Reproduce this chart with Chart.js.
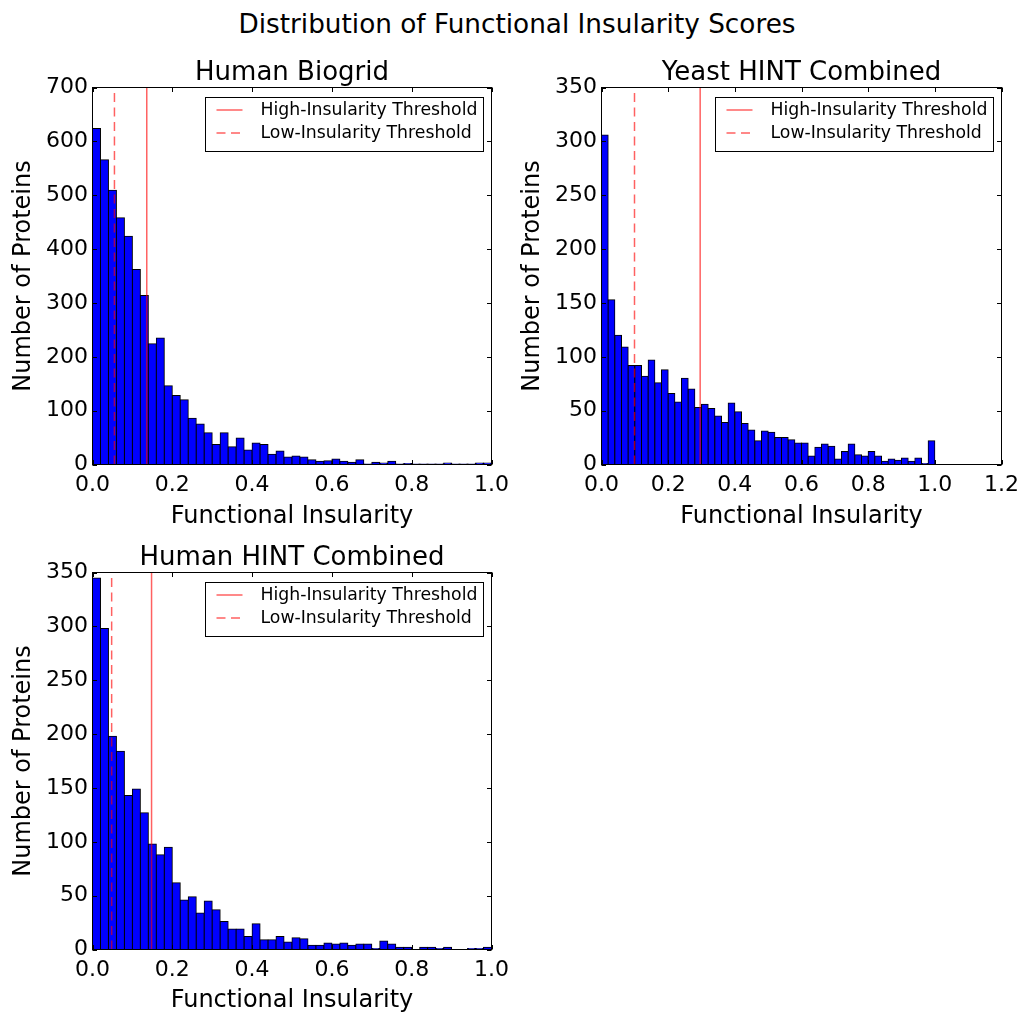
<!DOCTYPE html>
<html><head><meta charset="utf-8">
<script src="https://cdn.jsdelivr.net/npm/chart.js@4.4.1/dist/chart.umd.min.js"></script>
<style>
html,body{margin:0;padding:0;background:#fff;overflow:hidden}
#fig{position:relative;width:1022px;height:1013px;font-family:"DejaVu Sans";overflow:hidden}
#sup{position:absolute;left:6px;width:1022px;top:9px;text-align:center;font-size:26.3px;line-height:30px;color:#000;white-space:nowrap}
canvas{position:absolute}
</style></head><body>
<div id="fig">
<div id="sup">Distribution of Functional Insularity Scores</div>
<canvas id="c1" width="511" height="491" style="left:0;top:40px"></canvas>
<canvas id="c2" width="511" height="491" style="left:511px;top:40px"></canvas>
<canvas id="c3" width="511" height="492" style="left:0;top:523px"></canvas>
</div>
<script>
// ---- data ----
const binLefts = [0.00,0.02,0.04,0.06,0.08,0.10,0.12,0.14,0.16,0.18,
                  0.20,0.22,0.24,0.26,0.28,0.30,0.32,0.34,0.36,0.38,
                  0.40,0.42,0.44,0.46,0.48,0.50,0.52,0.54,0.56,0.58,
                  0.60,0.62,0.64,0.66,0.68,0.70,0.72,0.74,0.76,0.78,
                  0.80,0.82,0.84,0.86,0.88,0.90,0.92,0.94,0.96,0.98];
const binWidth = 0.02;

const biogridCounts = [624,566,509,458,424,362,314,224,235,146,
                       128,120,86,75,59,37,59,33,49,27,
                       40,37,19,25,14,16,14,9,6,7,
                       10,6,4,9,1,4,3,6,1,2,
                       1,1,1,1,3,1,1,1,3,3];
const yeastCounts = [306,153,120,109,92,92,82,97,76,88,
                     66,58,80,70,53,56,52,45,39,57,
                     49,38,32,22,31,30,25,25,23,20,
                     20,8,16,19,17,5,12,19,9,8,
                     12,8,3,5,4,6,3,6,1,22];
const hintCounts = [345,298,198,184,143,149,127,98,88,95,
                    62,46,49,34,45,37,26,19,19,12,
                    24,9,9,12,7,11,10,4,4,6,
                    5,6,4,5,5,1,8,5,2,2,
                    0,2,2,1,2,0,0,1,1,2];

const panelTitles = ['Human Biogrid','Yeast HINT Combined','Human HINT Combined'];
const lowThresholds  = [0.055, 0.099, 0.048];
const highThresholds = [0.136, 0.296, 0.148];
const xMaxes = [1.0, 1.2, 1.0];
const yMaxes = [700, 350, 350];
const ySteps = [100, 50, 50];
const xTickStep = 0.2;
const xLabel = 'Functional Insularity';
const yLabel = 'Number of Proteins';
const highLabel = 'High-Insularity Threshold';
const lowLabel = 'Low-Insularity Threshold';
const seriesCounts = [biogridCounts, yeastCounts, hintCounts];

// ---- styling / layout ----
Chart.defaults.font.family = '"DejaVu Sans"';
Chart.defaults.color = '#000';
const lineColor = 'rgba(255,0,0,0.62)';
const dash = [9,5.5];

const layouts = [
  {id:'c1', yW:92.5, padR:19.5, titlePad:18.9, xH:66.5, yTitlePad:9.6},
  {id:'c2', yW:90.5, padR:20.5, titlePad:18.9, xH:66.5, yTitlePad:7.6},
  {id:'c3', yW:92.5, padR:19.5, titlePad:20.9, xH:65.5, yTitlePad:9.6}
];

const frameTicks = {
  id:'frameTicks',
  afterDatasetsDraw(chart){
    const ctx = chart.ctx, a = chart.chartArea;
    const xs = chart.scales.x, ys = chart.scales.y;
    const L = 4.5;
    ctx.save();
    ctx.strokeStyle = '#000';
    ctx.lineWidth = 1;
    ctx.beginPath();
    xs.ticks.forEach(t => {
      const p = Math.round(xs.getPixelForValue(t.value)) + 0.5;
      ctx.moveTo(p, a.bottom); ctx.lineTo(p, a.bottom - L);
      ctx.moveTo(p, a.top); ctx.lineTo(p, a.top + L);
    });
    ys.ticks.forEach(t => {
      const p = Math.round(ys.getPixelForValue(t.value)) + 0.5;
      ctx.moveTo(a.left, p); ctx.lineTo(a.left + L, p);
      ctx.moveTo(a.right, p); ctx.lineTo(a.right - L, p);
    });
    ctx.stroke();
    ctx.strokeRect(a.left, a.top, a.right - a.left, a.bottom - a.top);
    ctx.restore();
  }
};

const boxLegend = {
  id:'boxLegend',
  afterDraw(chart){
    const ctx = chart.ctx, a = chart.chartArea;
    const items = chart.data.datasets.filter(d => d.type === 'line');
    ctx.save();
    ctx.font = '17.3px "DejaVu Sans"';
    const tw = Math.max(...items.map(d => ctx.measureText(d.label).width));
    const w = Math.round(55 + tw + 6.5), h = 54;
    const x1 = a.right - 8, x0 = x1 - w, y0 = a.top + 10;
    ctx.fillStyle = '#fff';
    ctx.fillRect(x0, y0, w, h);
    ctx.strokeStyle = '#000';
    ctx.lineWidth = 1;
    ctx.strokeRect(x0, y0, w, h);
    items.forEach((d, i) => {
      const cy = y0 + 12.5 + i * 23;
      ctx.strokeStyle = d.borderColor;
      ctx.lineWidth = d.borderWidth;
      ctx.setLineDash(d.borderDash || []);
      ctx.beginPath();
      ctx.moveTo(x0 + 11, cy); ctx.lineTo(x0 + 37, cy);
      ctx.stroke();
      ctx.setLineDash([]);
      ctx.fillStyle = '#000';
      ctx.textBaseline = 'middle';
      ctx.textAlign = 'left';
      ctx.fillText(d.label, x0 + 55, cy + 1);
    });
    ctx.restore();
  }
};

layouts.forEach((lay, i) => {
  const counts = seriesCounts[i];
  const yMax = yMaxes[i];
  new Chart(document.getElementById(lay.id), {
    type:'bar',
    data:{
      datasets:[
        {type:'line', label:highLabel, data:[{x:highThresholds[i], y:0},{x:highThresholds[i], y:yMax}],
         borderColor:lineColor, borderWidth:1.5, pointRadius:0, order:0, fill:false},
        {type:'line', label:lowLabel, data:[{x:lowThresholds[i], y:0},{x:lowThresholds[i], y:yMax}],
         borderColor:lineColor, borderWidth:1.5, borderDash:dash, pointRadius:0, order:0, fill:false},
        {type:'bar', label:'Proteins', data:binLefts.map((l, k) => ({x:l + binWidth/2, y:counts[k]})),
         backgroundColor:'#0000ff', borderColor:'#000', borderWidth:1, borderSkipped:false,
         inflateAmount:0.5, barPercentage:1, categoryPercentage:1, order:1}
      ]
    },
    options:{
      responsive:false, animation:false, devicePixelRatio:1,
      layout:{padding:{top:0,left:0,right:lay.padR,bottom:0}},
      plugins:{
        legend:{display:false}, tooltip:{enabled:false},
        title:{display:true, text:panelTitles[i], fullSize:false, color:'#000',
               font:{size:26, weight:'normal', lineHeight:1.1}, padding:{top:lay.titlePad, bottom:0}}
      },
      scales:{
        x:{type:'linear', min:0, max:xMaxes[i], offset:false,
           grid:{display:false, drawTicks:true, tickLength:8}, border:{display:false},
           ticks:{stepSize:xTickStep, padding:0, font:{size:22}, color:'#000', maxRotation:0, autoSkip:false,
                  callback:v => Number(v).toFixed(1)},
           title:{display:true, text:xLabel, font:{size:24}, color:'#000', padding:{top:0,bottom:0}},
           afterFit(s){ s.height = lay.xH; }},
        y:{type:'linear', min:0, max:yMax,
           grid:{display:false, drawTicks:false}, border:{display:false},
           ticks:{stepSize:ySteps[i], padding:4.5, font:{size:22}, color:'#000'},
           title:{display:true, text:yLabel, font:{size:24}, color:'#000', padding:{top:lay.yTitlePad,bottom:0}},
           afterFit(s){ s.width = lay.yW; }}
      }
    },
    plugins:[frameTicks, boxLegend]
  });
});
</script>
</body></html>
